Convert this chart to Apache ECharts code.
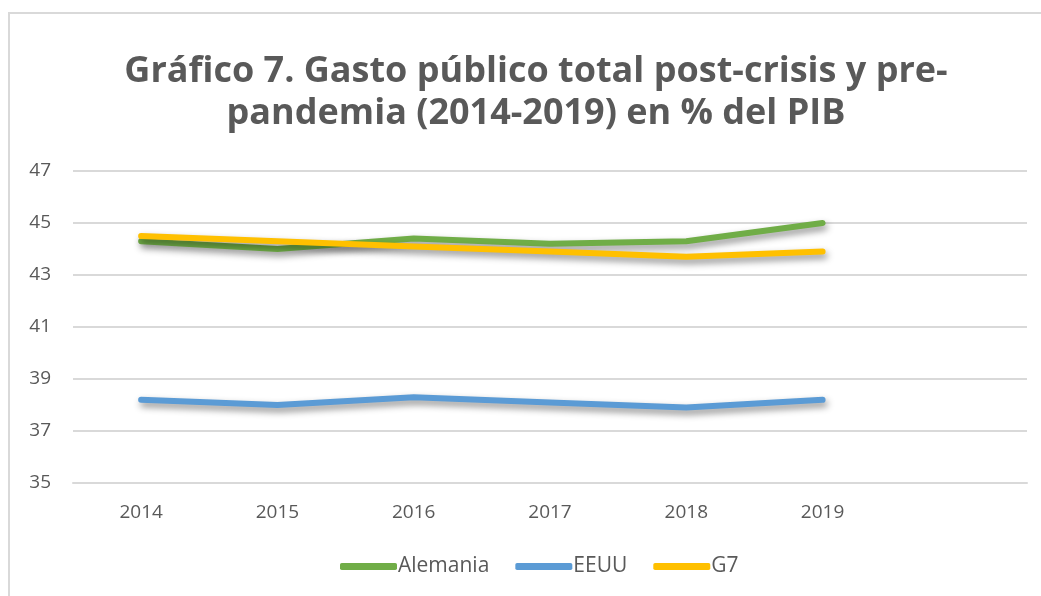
<!DOCTYPE html>
<html>
<head>
<meta charset="utf-8">
<script src="https://cdn.jsdelivr.net/npm/echarts@6/dist/echarts.min.js"></script>
<style>
  html, body { margin: 0; padding: 0; background: #fff; overflow: hidden; }
  #frame { position: absolute; left: 8px; top: 12px; width: 1100px; height: 700px; border: 2px solid #d9d9d9; box-sizing: border-box; }
  #main { position: absolute; left: 0; top: 0; width: 1041px; height: 596px; }
</style>
</head>
<body>
<div id="frame"></div>
<div id="main"></div>
<script>
// categorías (la última queda vacía, como en el original)
const years = ['2014', '2015', '2016', '2017', '2018', '2019', ''];
const alemania = [44.3, 44.0, 44.4, 44.2, 44.3, 45.0];
const eeuu = [38.2, 38.0, 38.3, 38.1, 37.9, 38.2];
const g7 = [44.5, 44.3, 44.1, 43.9, 43.7, 43.9];

const txt = '#595959';
const font = 'Open Sans';

function lineSerie(name, data, color) {
  return {
    name: name,
    type: 'line',
    data: data,
    symbol: 'none',
    lineStyle: {
      width: 6,
      color: color,
      cap: 'round',
      join: 'round',
      shadowColor: 'rgba(0,0,0,0.45)',
      shadowBlur: 7,
      shadowOffsetX: 2,
      shadowOffsetY: 4
    },
    itemStyle: { color: color }
  };
}

let myChart = echarts.init(document.getElementById('main'));
let option = {
  animation: false,
  title: {
    text: 'Gráfico 7. Gasto público total post-crisis y pre-\npandemia (2014-2019) en % del PIB',
    left: 531,
    textAlign: 'center',
    top: 46,
    textStyle: {
      fontFamily: font,
      fontWeight: 'bold',
      fontSize: 36,
      lineHeight: 42,
      color: txt
    }
  },
  legend: {
    bottom: 14,
    left: 335,
    icon: 'roundRect',
    itemWidth: 57,
    itemHeight: 7,
    itemGap: 26,
    textStyle: { fontFamily: font, fontSize: 21, color: txt, padding: [0, 0, 0, -4] },
    data: ['Alemania', 'EEUU', 'G7']
  },
  grid: {
    left: 73,
    right: 14,
    top: 171,
    bottom: 113
  },
  xAxis: {
    type: 'category',
    data: years,
    boundaryGap: true,
    axisLine: { lineStyle: { color: '#d9d9d9', width: 2 } },
    axisTick: { show: false },
    axisLabel: { fontFamily: font, fontSize: 19, color: txt, margin: 20 }
  },
  yAxis: {
    type: 'value',
    min: 35,
    max: 47,
    interval: 2,
    axisLine: { show: false },
    axisTick: { show: false },
    splitLine: { lineStyle: { color: '#d9d9d9', width: 2 } },
    axisLabel: { fontFamily: font, fontSize: 19, color: txt, margin: 22, align: 'right' }
  },
  series: [
    lineSerie('Alemania', alemania, '#70ad47'),
    lineSerie('EEUU', eeuu, '#5b9bd5'),
    lineSerie('G7', g7, '#ffc000')
  ]
};
myChart.setOption(option);
</script>
</body>
</html>
